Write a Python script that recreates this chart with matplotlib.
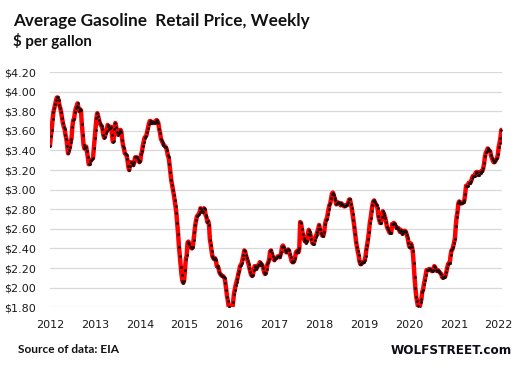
import matplotlib
matplotlib.use('Agg')
import matplotlib.pyplot as plt
import pandas as pd

# Weekly average gasoline retail price ($/gal), weeks starting 2012-02-06
p2012 = [3.45, 3.55, 3.61, 3.72,
         3.79, 3.83, 3.87, 3.91,
         3.94, 3.94, 3.91, 3.86, 3.83,
         3.79, 3.73, 3.68, 3.64,
         3.62, 3.56, 3.52, 3.45,
         3.37, 3.40, 3.43, 3.49, 3.52,
         3.64, 3.71, 3.72, 3.79,
         3.83, 3.85, 3.88, 3.84,
         3.80, 3.82, 3.81, 3.67, 3.56,
         3.46, 3.42, 3.42, 3.44,
         3.39, 3.33, 3.26, 3.26, 3.29]
p2013 = [3.30, 3.31, 3.32, 3.42,
         3.53, 3.61, 3.73, 3.78,
         3.75, 3.71, 3.68, 3.66,
         3.65, 3.62, 3.56, 3.53, 3.54,
         3.58, 3.60, 3.66, 3.65,
         3.62, 3.63, 3.64, 3.56,
         3.49, 3.50, 3.62, 3.68, 3.64,
         3.59, 3.56, 3.58, 3.60,
         3.61, 3.59, 3.51, 3.45, 3.42,
         3.37, 3.36, 3.35, 3.31,
         3.24, 3.20, 3.24, 3.28,
         3.27, 3.26, 3.25, 3.28, 3.33]
p2014 = [3.33, 3.33, 3.31, 3.29,
         3.28, 3.29, 3.36, 3.39,
         3.45, 3.49, 3.53, 3.54, 3.55,
         3.59, 3.63, 3.67, 3.70,
         3.70, 3.68, 3.68, 3.69,
         3.69, 3.68, 3.70, 3.71, 3.70,
         3.68, 3.62, 3.58, 3.52,
         3.50, 3.48, 3.46, 3.45,
         3.44, 3.43, 3.40, 3.35, 3.33,
         3.26, 3.18, 3.10, 3.05,
         3.00, 2.95, 2.89, 2.83,
         2.76, 2.66, 2.55, 2.42, 2.32]
p2015 = [2.21, 2.13, 2.07, 2.05,
         2.07, 2.18, 2.29, 2.33,
         2.46, 2.47, 2.45, 2.42, 2.41,
         2.40, 2.41, 2.49, 2.57,
         2.64, 2.69, 2.73, 2.74,
         2.75, 2.77, 2.81, 2.80, 2.78,
         2.77, 2.81, 2.80, 2.74,
         2.72, 2.67, 2.68, 2.64, 2.49,
         2.44, 2.37, 2.32, 2.30,
         2.29, 2.30, 2.28, 2.22,
         2.22, 2.20, 2.16, 2.14, 2.13,
         2.12, 2.12, 2.11, 2.10]
p2016 = [2.05, 1.98, 1.91, 1.86,
         1.80, 1.76, 1.72, 1.73, 1.78,
         1.85, 1.94, 1.98, 2.03,
         2.06, 2.09, 2.14, 2.17,
         2.22, 2.23, 2.25, 2.29, 2.33,
         2.38, 2.37, 2.33, 2.30,
         2.27, 2.24, 2.20, 2.16,
         2.13, 2.12, 2.13, 2.18, 2.22,
         2.21, 2.19, 2.21, 2.23,
         2.23, 2.26, 2.25, 2.23, 2.23,
         2.20, 2.16, 2.14, 2.15,
         2.19, 2.24, 2.26, 2.29]
p2017 = [2.37, 2.38, 2.35, 2.32, 2.29,
         2.28, 2.30, 2.30, 2.31,
         2.32, 2.32, 2.31, 2.33,
         2.36, 2.42, 2.43, 2.41,
         2.38, 2.37, 2.36, 2.38, 2.39,
         2.38, 2.34, 2.31, 2.27,
         2.26, 2.26, 2.27, 2.30, 2.36,
         2.37, 2.38, 2.36, 2.40,
         2.67, 2.66, 2.60, 2.55,
         2.51, 2.48, 2.49, 2.46, 2.48,
         2.55, 2.59, 2.57, 2.54,
         2.50, 2.46, 2.45, 2.45]
p2018 = [2.49, 2.52, 2.54, 2.57, 2.60,
         2.64, 2.60, 2.56, 2.54,
         2.53, 2.53, 2.57, 2.65,
         2.69, 2.70, 2.75, 2.80, 2.84,
         2.86, 2.91, 2.96, 2.97,
         2.95, 2.91, 2.89, 2.85,
         2.86, 2.87, 2.86, 2.86, 2.84,
         2.86, 2.85, 2.84, 2.83,
         2.83, 2.84, 2.84, 2.85,
         2.87, 2.90, 2.90, 2.85, 2.81,
         2.75, 2.69, 2.62, 2.55,
         2.47, 2.42, 2.37, 2.33, 2.27]
p2019 = [2.24, 2.24, 2.26, 2.26,
         2.26, 2.28, 2.32, 2.39,
         2.44, 2.50, 2.57, 2.66,
         2.71, 2.78, 2.84, 2.88, 2.89,
         2.87, 2.85, 2.84, 2.81,
         2.73, 2.69, 2.66, 2.66,
         2.72, 2.78, 2.76, 2.74, 2.71,
         2.67, 2.62, 2.60, 2.58,
         2.56, 2.56, 2.56, 2.65, 2.65,
         2.66, 2.65, 2.63, 2.61,
         2.61, 2.61, 2.59, 2.57,
         2.59, 2.58, 2.55, 2.56, 2.58]
p2020 = [2.58, 2.57, 2.54, 2.51,
         2.46, 2.42, 2.41, 2.45,
         2.42, 2.37, 2.25, 2.11, 2.00,
         1.91, 1.86, 1.81, 1.77,
         1.79, 1.85, 1.88, 1.96,
         1.98, 2.04, 2.08, 2.13, 2.18,
         2.18, 2.18, 2.19, 2.19,
         2.18, 2.17, 2.17, 2.18, 2.22,
         2.21, 2.18, 2.17, 2.18,
         2.17, 2.16, 2.15, 2.14,
         2.11, 2.10, 2.11, 2.11, 2.12,
         2.16, 2.20, 2.24, 2.25]
p2021 = [2.25, 2.33, 2.38, 2.39,
         2.42, 2.46, 2.50, 2.63,
         2.72, 2.77, 2.86, 2.88, 2.86,
         2.86, 2.86, 2.87, 2.87,
         2.89, 2.96, 3.04, 3.04, 3.04,
         3.07, 3.07, 3.07, 3.09,
         3.12, 3.14, 3.14, 3.14,
         3.17, 3.18, 3.18, 3.15, 3.15,
         3.18, 3.17, 3.19, 3.19,
         3.22, 3.27, 3.34, 3.38,
         3.39, 3.42, 3.41, 3.40, 3.39,
         3.35, 3.32, 3.30, 3.28]
p2022 = [3.28, 3.29, 3.31, 3.32, 3.36, 3.44, 3.48, 3.53, 3.61]

start_date = '2012-02-06'
year_labels = ['2012', '2013', '2014', '2015', '2016', '2017',
               '2018', '2019', '2020', '2021', '2022']
y_ticks = [1.80, 2.00, 2.20, 2.40, 2.60, 2.80, 3.00, 3.20, 3.40, 3.60, 3.80, 4.00, 4.20]

values = p2012 + p2013 + p2014 + p2015 + p2016 + p2017 + p2018 + p2019 + p2020 + p2021 + p2022
dates = pd.date_range(start_date, periods=len(values), freq='7D')
tick_dates = pd.date_range(start_date, periods=len(year_labels), freq=pd.DateOffset(years=1))

W, H = 518, 371
fig = plt.figure(figsize=(W / 100, H / 100), dpi=100)
ax = fig.add_axes([50 / W, 1 - 307.3 / H, (501.7 - 50) / W, (307.3 - 72) / H])

ax.plot(dates, values, color='#ff0000', lw=3.2, solid_capstyle='round', zorder=3)
ax.plot(dates, values, ls='none', marker='o', ms=2.0, mfc='#111111', mec='#111111', mew=0, zorder=4)

ax.set_ylim(1.80, 4.20)
ax.set_yticks(y_ticks)
ax.set_yticklabels([f'${v:.2f}' for v in y_ticks])
ax.set_xlim(dates[0], dates[-1] + pd.Timedelta(days=3))
ax.set_xticks(tick_dates)
ax.set_xticklabels(year_labels)

ax.grid(axis='y', color='#d9d9d9', lw=0.9, zorder=0)
ax.set_axisbelow(True)
for s in ax.spines.values():
    s.set_visible(False)
ax.tick_params(axis='both', length=0, labelsize=8, labelcolor='#1a1a1a')
ax.tick_params(axis='y', pad=10)
ax.tick_params(axis='x', pad=9)

def px(x, y):
    return x / W, 1 - y / H

t1 = fig.text(*px(13, 26), 'Average Gasoline  Retail Price, Weekly', fontsize=13,
              fontweight='bold', family='Lato', color='#111111', va='baseline', ha='left')
t2 = fig.text(*px(13, 46), '$ per gallon', fontsize=10, fontweight='bold', family='Lato',
              color='#111111', va='baseline', ha='left')
t3 = fig.text(*px(18, 353), 'Source of data: EIA', fontsize=9, fontweight='bold', family='Lato',
              color='#111111', va='baseline', ha='left')
t4 = fig.text(*px(512, 354), 'WOLFSTREET.com', fontsize=11, fontweight='bold', family='DejaVu Sans',
              color='#0d0d1a', va='baseline', ha='right')

fig.canvas.draw()
r = fig.canvas.get_renderer()
for t, target in [(t1, 295), (t2, 79), (t3, 101), (t4, 120)]:
    w = t.get_window_extent(r).width
    t.set_fontsize(t.get_fontsize() * target / w)

fig.savefig('out.png', dpi=100, facecolor='white')
